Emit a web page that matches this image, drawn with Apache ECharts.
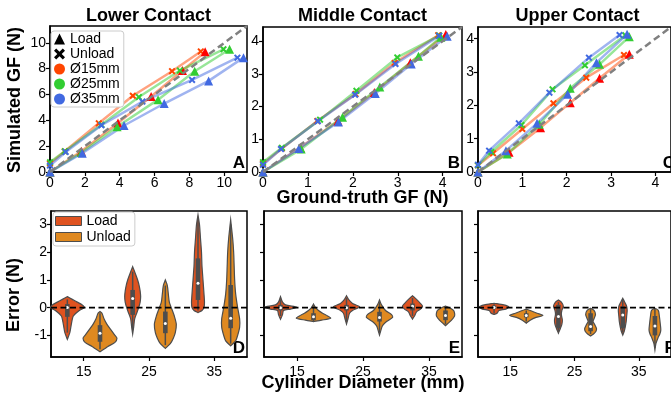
<!DOCTYPE html>
<html><head><meta charset="utf-8">
<script src="https://cdn.jsdelivr.net/npm/echarts@6/dist/echarts.min.js"></script>
<style>html,body{margin:0;padding:0;background:#fff}#chart{width:671px;height:399px}</style>
</head><body><div id="chart"></div>
<script>
// ---------- DATA ----------
const panelTitles = ['Lower Contact', 'Middle Contact', 'Upper Contact'];
const topLetters = ['A', 'B', 'C'];
const bottomLetters = ['D', 'E', 'F'];
const diameters = [15, 25, 35];
const diameterNames = ['Ø15mm', 'Ø25mm', 'Ø35mm'];
const topTicksLower = [0, 2, 4, 6, 8, 10];
const topTicksOther = [0, 1, 2, 3, 4];
const errorTicks = [-1, 0, 1, 2, 3];
const diameterTicks = [15, 25, 35];

// [ground-truth GF, simulated GF]
const lowerLoad15 = [[0,0],[1.8,1.6],[3.9,3.8],[5.8,5.85],[7.6,7.85],[8.9,9.3]];
const lowerUnload15 = [[0,0.65],[0.85,1.6],[2.8,3.77],[4.75,5.9],[7.0,7.8],[8.65,9.33]];
const lowerLoad25 = [[0,0],[1.8,1.5],[3.85,3.5],[6.2,5.6],[8.3,7.8],[10.3,9.5]];
const lowerUnload25 = [[0,0.75],[0.85,1.6],[2.95,3.65],[5.1,5.8],[7.45,7.85],[9.95,9.5]];
const lowerLoad35 = [[0,0],[1.85,1.45],[4.25,3.6],[6.55,5.3],[9.1,7.05],[11.1,8.85]];
const lowerUnload35 = [[0,0.5],[0.9,1.55],[2.95,3.62],[5.3,5.45],[8.15,7.13],[10.75,8.85]];

const middleLoad15 = [[0,0],[0.83,0.75],[1.67,1.56],[2.48,2.43],[3.28,3.34],[4.07,4.2]];
const middleUnload15 = [[0,0.25],[0.42,0.72],[1.21,1.56],[2.06,2.38],[2.93,3.33],[3.9,4.18]];
const middleLoad25 = [[0,0],[0.85,0.7],[1.77,1.67],[2.6,2.6],[3.46,3.54],[3.96,4.12]];
const middleUnload25 = [[0,0.3],[0.42,0.74],[1.27,1.6],[2.08,2.48],[2.99,3.5],[3.92,4.17]];
const middleLoad35 = [[0,0],[0.8,0.72],[1.68,1.53],[2.5,2.4],[3.3,3.3],[4.1,4.15]];
const middleUnload35 = [[0,0.22],[0.4,0.7],[1.22,1.55],[2.05,2.36],[2.95,3.3],[3.92,4.16]];

const upperLoad15 = [[0,0],[0.7,0.59],[1.41,1.33],[2.08,2.08],[2.74,2.81],[3.41,3.53]];
const upperUnload15 = [[0,0.2],[0.34,0.56],[1.0,1.29],[1.7,2.06],[2.44,2.83],[3.29,3.51]];
const upperLoad25 = [[0,0],[0.66,0.54],[1.38,1.43],[2.08,2.51],[2.74,3.23],[3.41,4.06]];
const upperUnload25 = [[0,0.2],[0.3,0.6],[0.98,1.41],[1.68,2.48],[2.41,3.2],[3.32,4.1]];
const upperLoad35 = [[0,0],[0.63,0.64],[1.33,1.46],[2.02,2.33],[2.67,3.28],[3.36,4.13]];
const upperUnload35 = [[0,0.22],[0.25,0.64],[0.92,1.46],[1.61,2.38],[2.5,3.43],[3.19,4.11]];

// Violin outlines per diameter: [error (N), relative half-width], top to bottom
const lowerLoadViolins = [
  [[0.4,0],[0.3,5],[0.2,10],[0.1,15],[0,17],[-0.1,12],[-0.3,6],[-0.6,4],[-0.9,2.5],[-1.14,0]],
  [[1.48,0],[1.2,3],[1.0,5],[0.8,6.5],[0.6,7.5],[0.4,8],[0.2,7.5],[0,6],[-0.2,4],[-0.4,2],[-0.7,1],[-0.95,0]],
  [[3.35,0],[3.0,1.5],[2.5,2.5],[2.0,3.5],[1.5,4],[1.0,5],[0.5,6],[0.2,6.5],[0,6],[-0.1,4],[-0.18,0]]
];
const lowerUnloadViolins = [
  [[-0.14,0],[-0.2,2],[-0.4,4],[-0.6,7],[-0.8,11],[-1.0,15],[-1.1,17],[-1.25,15],[-1.4,8],[-1.59,0]],
  [[1.0,0],[0.8,2],[0.5,3],[0.2,4],[0,6],[-0.3,9],[-0.6,11],[-0.9,10],[-1.1,8],[-1.3,5],[-1.47,0]],
  [[3.17,0],[2.5,2],[2.0,3],[1.5,3.5],[1.0,4],[0.5,5],[0,7],[-0.4,9],[-0.7,9],[-1.0,7],[-1.2,5],[-1.38,0]]
];
const middleLoadViolins = [
  [[0.4,0],[0.2,2],[0.1,5],[0.02,16],[-0.05,10],[-0.1,3],[-0.25,2],[-0.42,0]],
  [[0.43,0],[0.3,2],[0.15,6],[0.03,13],[-0.1,6],[-0.2,3],[-0.4,1.5],[-0.59,0]],
  [[0.43,0],[0.3,4],[0.15,8],[0.05,10],[-0.05,8],[-0.15,4],[-0.3,2],[-0.41,0]]
];
const middleUnloadViolins = [
  [[0.13,0],[0,2],[-0.1,5],[-0.2,9],[-0.3,14],[-0.38,17],[-0.45,8],[-0.5,0]],
  [[0.28,0],[0.1,2],[-0.1,6],[-0.25,12],[-0.35,13],[-0.5,7],[-0.65,3],[-0.8,1.5],[-0.99,0]],
  [[0.06,0],[0,4],[-0.1,8],[-0.2,9],[-0.3,9],[-0.45,6],[-0.55,3],[-0.65,0]]
];
const upperLoadViolins = [
  [[0.16,0],[0.1,10],[0.03,15],[-0.05,12],[-0.1,5],[-0.2,3],[-0.24,0]],
  [[0.28,0],[0.2,3],[0.05,5],[-0.1,3.5],[-0.25,3],[-0.45,4],[-0.6,3.5],[-0.75,2],[-0.92,0]],
  [[0.34,0],[0.2,2],[0.05,4],[-0.1,4.5],[-0.3,4],[-0.5,3.5],[-0.7,2.5],[-0.85,1.5],[-0.99,0]]
];
const upperUnloadViolins = [
  [[-0.05,0],[-0.1,4],[-0.2,11],[-0.28,17],[-0.35,10],[-0.45,4],[-0.56,0]],
  [[-0.02,0],[-0.1,3.5],[-0.25,5],[-0.4,3.5],[-0.5,2.5],[-0.6,4],[-0.75,6],[-0.85,5.5],[-0.95,3],[-1.02,0]],
  [[-0.02,0],[-0.1,3.5],[-0.3,4.5],[-0.6,5.5],[-0.8,6],[-0.95,5],[-1.1,3],[-1.3,1],[-1.53,0]]
];
// inner box: [whisker low, q1, median, q3, whisker high]
const lowerLoadBoxes = [[-0.9,-0.33,0.01,0.13,0.3],[-0.8,-0.26,0.33,0.64,1.3],[-0.1,0.28,0.88,1.78,3.2]];
const lowerUnloadBoxes = [[-1.5,-1.23,-0.92,-0.63,-0.2],[-1.35,-0.92,-0.57,-0.14,0.8],[-1.3,-0.74,-0.38,0.82,3.0]];
const middleLoadBoxes = [[-0.3,-0.1,0,0.1,0.3],[-0.5,-0.1,0,0.1,0.35],[-0.3,-0.1,0.05,0.15,0.35]];
const middleUnloadBoxes = [[-0.48,-0.45,-0.33,-0.2,0.05],[-0.9,-0.5,-0.35,-0.15,0.2],[-0.6,-0.45,-0.28,-0.1,0.03]];
const upperLoadBoxes = [[-0.2,-0.05,0.01,0.08,0.12],[-0.85,-0.75,-0.32,0.1,0.2],[-0.9,-0.75,-0.26,0.05,0.3]];
const upperUnloadBoxes = [[-0.5,-0.35,-0.28,-0.2,-0.1],[-0.95,-0.85,-0.68,-0.2,-0.05],[-1.45,-1.0,-0.66,-0.3,-0.05]];

// ---------- LAYOUT / STYLE ----------
const FONT = '"Liberation Sans", Arial, Helvetica, sans-serif';
const topGrids = [
  {left: 50, top: 26, width: 197, height: 146},
  {left: 263, top: 27, width: 199, height: 145},
  {left: 478, top: 27, width: 199, height: 145}
];
const bottomGrids = [
  {left: 51, top: 211, width: 196, height: 146},
  {left: 264, top: 211, width: 198, height: 146},
  {left: 478, top: 211, width: 199, height: 146}
];
const topMax = [11.3, 4.43, 4.35];
const topTicks = [topTicksLower, topTicksOther, topTicksOther];
const lineColors = ['#ff4500', '#32cd32', '#4169e1'];
const loadMarkerColors = ['#ff0000', '#32cd32', '#4169e1'];
const violinFill = {load: '#df5320', unload: '#df8920'};
const EDGE = '#4d4d4d';
const HUE_OFFSET = 2.5;
const WSCALE = 1 / 6.55;
const CROSS = 'path://M2,0L5,3L8,0L10,2L7,5L10,8L8,10L5,7L2,10L0,8L3,5L0,2Z';

const topSets = [
  {load: [lowerLoad15, lowerLoad25, lowerLoad35], unload: [lowerUnload15, lowerUnload25, lowerUnload35]},
  {load: [middleLoad15, middleLoad25, middleLoad35], unload: [middleUnload15, middleUnload25, middleUnload35]},
  {load: [upperLoad15, upperLoad25, upperLoad35], unload: [upperUnload15, upperUnload25, upperUnload35]}
];
const violinSets = [
  {load: lowerLoadViolins, unload: lowerUnloadViolins, loadBox: lowerLoadBoxes, unloadBox: lowerUnloadBoxes},
  {load: middleLoadViolins, unload: middleUnloadViolins, loadBox: middleLoadBoxes, unloadBox: middleUnloadBoxes},
  {load: upperLoadViolins, unload: upperUnloadViolins, loadBox: upperLoadBoxes, unloadBox: upperUnloadBoxes}
];

const grids = [], xAxes = [], yAxes = [], series = [];
function axisCommon(ticks, showLabels, margin, size) {
  return {
    axisLine: {show: true, onZero: false, lineStyle: {color: '#000', width: 1.5}},
    axisTick: {show: true, length: 4, inside: false, lineStyle: {color: '#000', width: 1.2}, customValues: ticks},
    axisLabel: {show: showLabels, customValues: ticks, color: '#000', fontSize: size, fontFamily: FONT, margin: margin},
    splitLine: {show: false}
  };
}
topGrids.forEach((g, p) => {
  grids.push(Object.assign({show: true, borderColor: '#000', borderWidth: 1.5, containLabel: false}, g));
  xAxes.push(Object.assign({type: 'value', gridIndex: p, min: 0, max: topMax[p]}, axisCommon(topTicks[p], true, 4, 14)));
  yAxes.push(Object.assign({type: 'value', gridIndex: p, min: 0, max: topMax[p]}, axisCommon(topTicks[p], true, 4, 14)));
});
bottomGrids.forEach((g, p) => {
  const gi = p + 3;
  grids.push(Object.assign({show: true, borderColor: '#000', borderWidth: 1.5, containLabel: false}, g));
  xAxes.push(Object.assign({type: 'value', gridIndex: gi, min: 10, max: 40}, axisCommon(diameterTicks, true, 8, 14)));
  yAxes.push(Object.assign({type: 'value', gridIndex: gi, min: -1.78, max: 3.49}, axisCommon(errorTicks, p === 0, 4, 14)));
});

// top panels
topSets.forEach((set, p) => {
  for (let d = 0; d < 3; d++) {
    series.push({
      type: 'line', xAxisIndex: p, yAxisIndex: p, data: set.unload[d], z: 3,
      symbol: CROSS, symbolSize: 7, showAllSymbol: true,
      lineStyle: {color: lineColors[d], width: 2.5, opacity: 0.5},
      itemStyle: {color: lineColors[d]}, emphasis: {disabled: true}, animation: false
    });
    series.push({
      type: 'line', xAxisIndex: p, yAxisIndex: p, data: set.load[d], z: 3,
      symbol: 'triangle', symbolSize: 9, showAllSymbol: true,
      lineStyle: {color: lineColors[d], width: 2.5, opacity: 0.5},
      itemStyle: {color: loadMarkerColors[d]}, emphasis: {disabled: true}, animation: false
    });
  }
  series.push({
    type: 'line', xAxisIndex: p, yAxisIndex: p, z: 4, symbol: 'none',
    data: [[0, 0], [topMax[p], topMax[p]]],
    lineStyle: {color: '#808080', width: 2.5, type: [7, 4]}, animation: false, silent: true
  });
});

// violins
function violinRender(profiles, boxes, fill, offset) {
  return function (params, api) {
    const i = api.value(1);
    const xc = api.value(0) + offset;
    const prof = profiles[i];
    const right = prof.map(([y, w]) => api.coord([xc + w * WSCALE, y]));
    const left = prof.slice().reverse().map(([y, w]) => api.coord([xc - w * WSCALE, y]));
    const [wlo, q1, med, q3, whi] = boxes[i];
    const cx = api.coord([xc, 0])[0];
    const yOf = v => api.coord([xc, v])[1];
    return {
      type: 'group', children: [
        {type: 'polygon', shape: {points: right.concat(left), smooth: 0.25}, style: {fill: fill, stroke: EDGE, lineWidth: 1.2}},
        {type: 'line', shape: {x1: cx, y1: yOf(whi), x2: cx, y2: yOf(wlo)}, style: {stroke: EDGE, lineWidth: 1.5}},
        {type: 'rect', shape: {x: cx - 2.3, y: yOf(q3), width: 4.6, height: yOf(q1) - yOf(q3)}, style: {fill: EDGE}},
        {type: 'circle', shape: {cx: cx, cy: yOf(med), r: 1.5}, style: {fill: '#fff'}}
      ]
    };
  };
}
violinSets.forEach((set, p) => {
  const ai = p + 3;
  const items = diameters.map((d, i) => [d, i]);
  series.push({type: 'custom', xAxisIndex: ai, yAxisIndex: ai, data: items, encode: {x: 0},
    renderItem: violinRender(set.load, set.loadBox, violinFill.load, -HUE_OFFSET), z: 2, silent: true, animation: false});
  series.push({type: 'custom', xAxisIndex: ai, yAxisIndex: ai, data: items, encode: {x: 0},
    renderItem: violinRender(set.unload, set.unloadBox, violinFill.unload, HUE_OFFSET), z: 2, silent: true, animation: false});
  series.push({type: 'line', xAxisIndex: ai, yAxisIndex: ai, z: 5, symbol: 'none', data: [[10, 0], [40, 0]],
    lineStyle: {color: '#000', width: 1.8, type: [6, 3.5]}, animation: false, silent: true});
});

// legend-only series
['Load', 'Unload'].concat(diameterNames).forEach(n => {
  series.push({name: n, type: 'line', xAxisIndex: 0, yAxisIndex: 0, data: []});
});

const graphics = [];
const textEl = (text, x, y, size, opts) => ({
  type: 'text', x: x, y: y, silent: true,
  style: Object.assign({text: text, font: 'bold ' + size + 'px ' + FONT, fill: '#000', align: 'center', verticalAlign: 'middle'}, opts || {})
});
panelTitles.forEach((t, p) => graphics.push(textEl(t, topGrids[p].left + topGrids[p].width / 2, 16, 18)));
graphics.push(Object.assign(textEl('Simulated GF (N)', 15, 100, 18), {rotation: Math.PI / 2}));
graphics.push(Object.assign(textEl('Error (N)', 14, 295, 18), {rotation: Math.PI / 2}));
graphics.push(textEl('Ground-truth GF (N)', 362.5, 198, 18));
graphics.push(textEl('Cylinder Diameter (mm)', 363, 383, 18));
topLetters.concat(bottomLetters).forEach((l, k) => {
  const g = k < 3 ? topGrids[k] : bottomGrids[k - 3];
  graphics.push(textEl(l, g.left + g.width - 2, g.top + g.height, 17, {align: 'right', verticalAlign: 'bottom'}));
});

const chart = echarts.init(document.getElementById('chart'), null, {renderer: 'canvas'});
chart.setOption({
  animation: false,
  backgroundColor: '#fff',
  grid: grids, xAxis: xAxes, yAxis: yAxes, series: series,
  legend: [
    {
      left: 51, top: 31, orient: 'vertical', itemWidth: 11, itemHeight: 11, itemGap: 1,
      padding: [1, 4, 1, 3], borderColor: '#cccccc', borderWidth: 1, borderRadius: 3, backgroundColor: '#fff',
      textStyle: {color: '#000', fontSize: 14, lineHeight: 12, fontFamily: FONT}, selectedMode: false,
      data: [
        {name: 'Load', icon: 'triangle', itemStyle: {color: '#000'}},
        {name: 'Unload', icon: CROSS, itemStyle: {color: '#000'}},
        {name: diameterNames[0], icon: 'circle', itemStyle: {color: lineColors[0]}},
        {name: diameterNames[1], icon: 'circle', itemStyle: {color: lineColors[1]}},
        {name: diameterNames[2], icon: 'circle', itemStyle: {color: lineColors[2]}}
      ]
    },
    {
      left: 53, top: 212, orient: 'vertical', itemWidth: 26, itemHeight: 9, itemGap: 2,
      padding: [2, 4, 2, 2], borderColor: '#cccccc', borderWidth: 1, borderRadius: 3, backgroundColor: '#fff',
      textStyle: {color: '#000', fontSize: 14, lineHeight: 12, fontFamily: FONT}, selectedMode: false,
      data: [
        {name: 'Load', icon: 'rect', itemStyle: {color: violinFill.load, borderColor: EDGE, borderWidth: 1}},
        {name: 'Unload', icon: 'rect', itemStyle: {color: violinFill.unload, borderColor: EDGE, borderWidth: 1}}
      ]
    }
  ],
  graphic: graphics
});
</script></body></html>
